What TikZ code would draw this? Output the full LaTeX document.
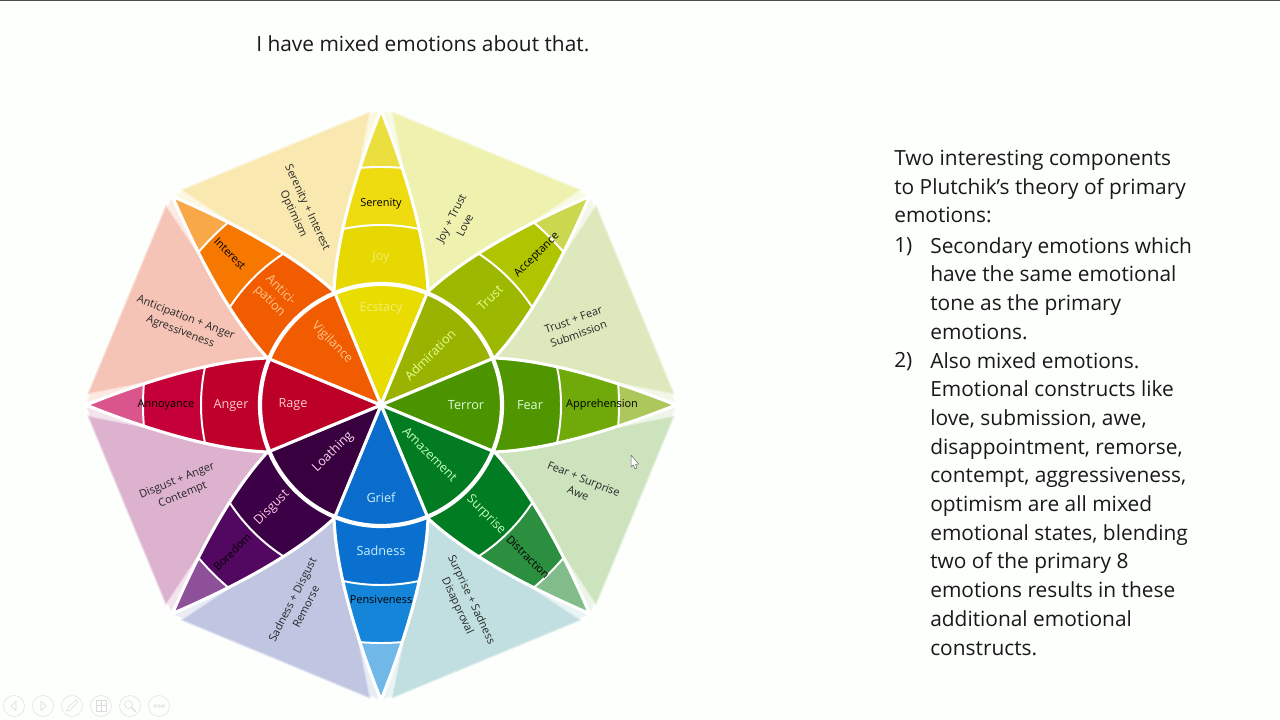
\documentclass[tikz,border=0pt]{standalone}
\usepackage{fontspec}
\setmainfont{Open Sans}
\tikzset{
	bodytext/.style = {anchor = north west, inner sep = 0pt, align = left, text = black!90, font = \fontsize{14.85}{20.4}\selectfont},
	palelabel/.style = {inner sep = 0pt, align = center, font = \fontsize{9}{11}\selectfont},
	darklabel/.style = {inner sep = 0pt, text = black, font = \fontsize{7.8}{9}\selectfont},
	mixlabel/.style = {inner sep = 0pt, align = center, text = black!85, font = \fontsize{7.8}{10.8}\selectfont},
	toolring/.style = {draw = black!12, line width = 0.4pt},
	toolmark/.style = {draw = black!14, line width = 0.4pt}
}
\begin{document}
\begin{tikzpicture}[x = 0.025cm, y = -0.025cm]
	\useasboundingbox (0,0) rectangle (1280,720);
	\fill [fill = white!99!green] (0,0) rectangle (1280,720);
	\draw [black!70, line width = 1pt] (0,0.5) -- (1280,0.5);
	% the eight wedges of mixed emotions go under the petals
	\foreach \i/\cm in {0/EFF1AF, 1/DDE8BC, 2/CCE3BE, 3/C1DFE0, 4/C0C5E2, 5/DDB2CF, 6/F6C4B6, 7/F9E9B0} {
		\definecolor{mixcol}{HTML}{\cm}
		\begin{scope}[shift = {(381,405)}, rotate = -45*\i]
			\fill [fill = mixcol!35!white] (47,-113) -- (3,-294) -- (206,-210) -- cycle;
			\fill [fill = mixcol, draw = mixcol!55!white, line width = 0.9pt, line join = round] (47,-113) -- (11,-293) -- (199.4,-214.9) -- cycle;
		\end{scope}
	}
	% petals, from the point at the middle out to the tip
	\foreach \i/\ca/\cb/\cc/\cd in {0/E8DC00/E6D800/EEDC10/EADF3F, 1/99B300/9DB800/B0C400/CBD84F, 2/4C9300/4F9600/6FA90A/ACC75A, 3/037B23/027C22/2C8E3F/82BC8A, 4/0A6CCB/0A70D0/1485D8/6FB8E8, 5/38003F/3B0045/520760/8E5099, 6/BC0028/BE002A/C50038/D9558C, 7/F25C00/F25C00/F77800/F9A848} {
		\definecolor{colA}{HTML}{\ca}
		\definecolor{colB}{HTML}{\cb}
		\definecolor{colC}{HTML}{\cc}
		\definecolor{colD}{HTML}{\cd}
		\begin{scope}[shift = {(381,405)}, rotate = -45*\i]
			\begin{scope}
				\clip (0,0) -- (47,-113) .. controls (45,-170) and (22,-240) .. (0,-295) .. controls (-22,-240) and (-45,-170) .. (-47,-113) -- cycle;
				\fill [colD] (0,0) circle (300);
				\fill [colC] (0,0) circle (238);
				\fill [colB] (0,0) circle (180);
				\fill [colA] (0,0) circle (121);
				\draw [white, line width = 1.4pt] (0,0) circle (238);
				\draw [white, line width = 1.4pt] (0,0) circle (180);
			\end{scope}
			\draw [white, line width = 2.2pt, line join = round] (0,0) -- (47,-113) .. controls (45,-170) and (22,-240) .. (0,-295) .. controls (-22,-240) and (-45,-170) .. (-47,-113) -- cycle;
			\draw [white, line width = 1.2pt] (0,0) -- (47,-113);
		\end{scope}
	}
	\draw [white, line width = 3pt] (381,405) circle (121);
	% petal labels
	\node [darklabel] (serenity) at (381,204) {Serenity};
	\node [palelabel, text = yellow!55!white!95!black] (joy) at (381,258) {Joy};
	\node [palelabel, text = yellow!55!white!95!black] (ecstacy) at (381,309) {Ecstacy};
	\node [palelabel, rotate = 45, text = lime!45!white] (admiration) at (430,355) {Admiration};
	\node [palelabel, rotate = 45, text = lime!45!white] (trust) at (490,298) {Trust};
	\node [darklabel, rotate = 45] (acceptance) at (537,255) {Acceptance};
	\node [palelabel, text = green!15!white] (terror) at (466,405) {Terror};
	\node [palelabel, text = green!15!white] (fear) at (530,405) {Fear};
	\node [darklabel] (apprehension) at (602,405) {Apprehension};
	\node [palelabel, rotate = -45, text = green!25!white] (amazement) at (430,454) {Amazement};
	\node [palelabel, rotate = -45, text = green!25!white] (surprise) at (486,515) {Surprise};
	\node [darklabel, rotate = -45] (distraction) at (528,557) {Distraction};
	\node [palelabel, text = cyan!20!white] (grief) at (381,498) {Grief};
	\node [palelabel, text = cyan!20!white] (sadness) at (381,551) {Sadness};
	\node [darklabel] (pensiveness) at (381,600) {Pensiveness};
	\node [palelabel, rotate = 45, text = magenta!15!white] (loathing) at (333,452) {Loathing};
	\node [palelabel, rotate = 45, text = magenta!20!white] (disgust) at (272,508) {Disgust};
	\node [darklabel, rotate = 45] (boredom) at (232,552) {Boredom};
	\node [palelabel, text = red!20!white] (rage) at (293,405) {Rage};
	\node [palelabel, text = red!20!white] (anger) at (231,405) {Anger};
	\node [darklabel] (annoyance) at (166,405) {Annoyance};
	\node [palelabel, rotate = -45, text = orange!45!white] (vigilance) at (332,343) {Vigilance};
	\node [palelabel, rotate = -45, text = orange!45!white] (anticipation) at (275,296) {Antici-\\pation};
	\node [darklabel, rotate = -45] (interest) at (230,254) {Interest};
	% labels of the mixed emotions
	\node [mixlabel, rotate = -65] (optimism) at (300,211) {Serenity + Interest\\Optimism};
	\node [mixlabel, rotate = 63] (love) at (458,222) {Joy + Trust\\Love};
	\node [mixlabel, rotate = 20] (submission) at (576,327) {Trust + Fear\\Submission};
	\node [mixlabel, rotate = -22] (awe) at (581,486) {Fear + Surprise\\Awe};
	\node [mixlabel, rotate = -65] (disapproval) at (464,603) {Surprise + Sadness\\Disapproval};
	\node [mixlabel, rotate = 63] (remorse) at (299,603) {Sadness + Disgust\\Remorse};
	\node [mixlabel, rotate = 22] (contempt) at (180,488) {Disgust + Anger\\Contempt};
	\node [mixlabel, rotate = -21] (aggressiveness) at (183,325) {Anticipation + Anger\\Agressiveness};
	% text of the slide
	\node [bodytext] (title) at (256,35) {I have mixed emotions about that.};
	\node [bodytext] (intro) at (894,150) {Two interesting components\\to Plutchik’s theory of primary\\emotions:};
	\node [bodytext] (numone) at (894,237) {1)};
	\node [bodytext] (itemone) at (930,237) {Secondary emotions which\\have the same emotional\\tone as the primary\\emotions.};
	\node [bodytext] (numtwo) at (894,352) {2)};
	\node [bodytext] (itemtwo) at (930,352) {Also mixed emotions.\\Emotional constructs like\\love, submission, awe,\\disappointment, remorse,\\contempt, aggressiveness,\\optimism are all mixed\\emotional states, blending\\two of the primary 8\\emotions results in these\\additional emotional\\constructs.};
	% mouse pointer
	\draw [fill = white, draw = black!60, line width = 0.35pt, line join = round] (631,455) -- (631,467) -- (633.5,465) -- (635,469) -- (637,468) -- (635.5,464.5) -- (638.5,464) -- cycle;
	% slide show buttons
	\foreach \x in {14,43,72,101,130,159}
		\draw [toolring] (\x,706) circle (10.5);
	\draw [toolmark] (16,701.5) -- (11,706) -- (16,710.5) -- cycle;
	\draw [toolmark] (41,701.5) -- (46,706) -- (41,710.5) -- cycle;
	\draw [toolmark] (66.5,711) -- (68,707) -- (76,700) -- (78,702) -- (70,710) -- cycle;
	\draw [toolmark] (96,700.5) rectangle (106,711.5);
	\draw [toolmark] (96,705) -- (106,705) (101,700.5) -- (101,711.5);
	\draw [toolmark] (128.5,704.5) circle (4);
	\draw [toolmark, line width = 0.8pt] (131.5,707.5) -- (135.5,711.5);
	\foreach \x in {155,159,163}
		\draw [toolmark] (\x,706) circle (1.4);
\end{tikzpicture}
\end{document}
